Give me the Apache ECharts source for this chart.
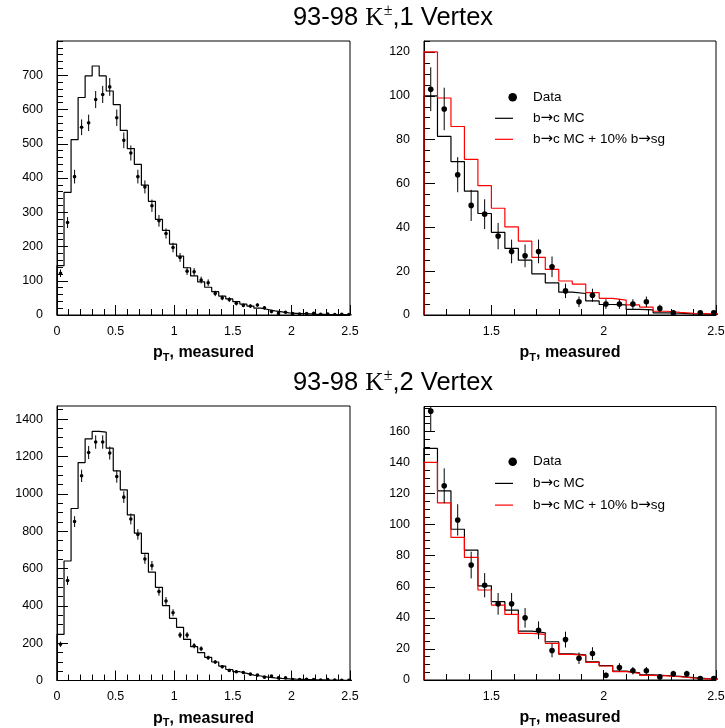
<!DOCTYPE html>
<html><head><meta charset="utf-8">
<script src="https://cdn.jsdelivr.net/npm/echarts@6/dist/echarts.min.js"></script>
<style>html,body{margin:0;padding:0;background:#fff}#c{width:725px;height:728px}</style>
</head><body><div id="c"></div>
<script>
// ---------------- data ----------------
const edgesLeft = [0,0.06,0.12,0.18,0.24,0.3,0.36,0.42,0.48,0.54,0.6,0.66,0.72,0.78,0.84,0.9,0.96,1.02,1.08,1.14,1.2,1.26,1.32,1.38,1.44,1.5,1.56,1.62,1.68,1.74,1.8,1.86,1.92,1.98,2.04,2.1,2.16,2.22,2.28,2.34,2.4,2.46,2.52];
const centersLeft = [0.03,0.09,0.15,0.21,0.27,0.33,0.39,0.45,0.51,0.57,0.63,0.69,0.75,0.81,0.87,0.93,0.99,1.05,1.11,1.17,1.23,1.29,1.35,1.41,1.47,1.53,1.59,1.65,1.71,1.77,1.83,1.89,1.95,2.01,2.07,2.13,2.19,2.25,2.31,2.37,2.43,2.49];
const edgesRight = [1.2,1.26,1.32,1.38,1.44,1.5,1.56,1.62,1.68,1.74,1.8,1.86,1.92,1.98,2.04,2.1,2.16,2.22,2.28,2.34,2.4,2.46,2.52];
const centersRight = [1.23,1.29,1.35,1.41,1.47,1.53,1.59,1.65,1.71,1.77,1.83,1.89,1.95,2.01,2.07,2.13,2.19,2.25,2.31,2.37,2.43,2.49];

// 1 vertex, full range
const v1MC   = [144,358,512,635,698,727,698,654,614,539,486,440,379,332,279,247,207,172,138,114,97,81,68,55,47,39,32,26,20,16,12,9,6,5,4,3,2,2,1,1,1,0];
const v1Data = [122,270,404,548,561,629,644,666,576,510,473,404,374,319,275,238,197,168,128,126,102,94,63,50,45,34,28,26,29,21,10,5,8,4,3,4,5,2,3,1,2,1];
const v1Err  = [11,16,20,23,24,25,25,26,24,23,22,20,19,18,17,15,14,13,11,11,10,10,8,7,7,6,5,5,5,5,3,2,3,2,2,2,2,1.4,1.7,1,1.4,1];
// 1 vertex, zoomed
const v1zMC    = [100,81.5,70,56.5,46.3,37.7,30.4,25,18.8,14.7,10.4,9.8,6.4,4.8,4.6,2.6,2.3,1.0,0.8,0.5,0.4,0.3];
const v1zMCsg  = [120,99,86,71,59,48.7,40.2,33.7,26.3,20.8,15.5,14.1,10.2,7.6,6.8,4.6,3.6,1.7,1.2,0.8,0.6,0.5];
const v1zData  = [103,94,64,50,46,36,29,27,29,22,11,6,9,5,5,5,6,3,1,null,1,1];
const v1zErr   = [10,9.7,8,7.1,6.8,6,5.4,5.2,5.4,4.7,3.3,2.4,3,2.2,2.2,2.2,2.4,1.7,1,0,1,1];
// 2 vertex, full range
const v2MC   = [247,640,921,1167,1294,1334,1330,1244,1123,1021,887,789,681,580,499,401,333,285,220,181,149,124,99,77,59,47,38,29,24,18,14,11,9,7,6,5,4,3,2,2,1,1];
const v2Data = [194,535,851,1096,1221,1277,1277,1218,1092,982,865,782,651,615,476,426,363,243,243,186,170,122,99,74,54,47,43,34,29,18,24,14,14,5,5,7,5,3,5,3,1,1];
const v2Err  = [14,23,29,33,35,36,36,35,33,31,29,28,26,25,22,21,19,16,16,14,13,11,10,9,7,7,7,6,5,4,5,4,4,2,2,3,2,2,2,2,1,1];
// 2 vertex, zoomed
const v2zMC   = [149,121.7,97,83.6,60.6,50.4,45,31.5,30.4,24.6,16.8,16.2,11.6,9.3,5.7,4.6,3.3,2.9,2.3,1.5,0.9,0.6];
const v2zMCsg = [140,114,91.8,78.9,57.9,48.2,42.2,30,29.4,23.6,16.5,15.9,11.4,9,5.4,4.3,3,2.6,2.1,1.3,0.7,0.5];
const v2zData = [173,125,103,74,61,49,49,40,32,19,26,14,17,3,8,6,6,2,4,4,1,1];
const v2zErr  = [13,11.2,10.1,8.6,7.8,7,7,6.3,5.7,4.4,5.1,3.7,4.1,1.7,2.8,2.4,2.4,1.4,2,2,1,1];

// tick labels
const ticksXLeft  = [0,0.5,1,1.5,2,2.5];
const ticksXRight = [1.5,2,2.5];
const ticksY1     = [0,100,200,300,400,500,600,700];
const ticksY1z    = [0,20,40,60,80,100,120];
const ticksY2     = [0,200,400,600,800,1000,1200,1400];
const ticksY2z    = [0,20,40,60,80,100,120,140,160];

const titles = ['93-98 ', 'K', '\u00B1', ',1 Vertex', ',2 Vertex'];
const legendNames = ['Data', 'b\u2192c MC', 'b\u2192c MC + 10% b\u2192sg'];

// ---------------- helpers ----------------
const FONT = '"Liberation Sans", Arial, Helvetica, sans-serif';
const SERIF = '"Liberation Serif", "Times New Roman", serif';
const ARROWFONT = '"DejaVu Sans", sans-serif';

function minorList(min, max, step) {
  const out = [];
  for (let k = 0; ; k++) {
    const v = Math.round((min + k * step) * 1e6) / 1e6;
    if (v > max + 1e-9) break;
    out.push(v);
  }
  return out;
}
function stepData(edges, vals) {
  const d = [[edges[0], 0]];
  for (let i = 0; i < vals.length; i++) d.push([edges[i], vals[i]]);
  d.push([edges[vals.length], vals[vals.length - 1]]);
  d.push([edges[vals.length], 0]);
  return d;
}
const axName = {
  name: '{p|p}{t|T}{p|, measured}',
  nameLocation: 'middle',
  nameGap: 28,
  nameTextStyle: {
    rich: {
      p: { fontFamily: FONT, fontWeight: 'bold', fontSize: 16, color: '#000', lineHeight: 20 },
      t: { fontFamily: FONT, fontWeight: 'bold', fontSize: 11, color: '#000', verticalAlign: 'bottom', lineHeight: 12, padding: [6, 0, 0, 0] }
    }
  }
};
const plainFmt = function (v) { return String(v); };
const xAxes = [], yAxes = [];
function addAxes(g, xmin, xmax, xMajors, xMinorStep, ymin, ymax, yMajors, yMinorStep) {
  xAxes.push(Object.assign({
    type: 'value', gridIndex: g, min: xmin, max: xmax, position: 'bottom',
    axisLine: { show: true, onZero: false, lineStyle: { color: '#000', width: 1 } },
    axisTick: { show: true, inside: true, length: 10, customValues: xMajors, lineStyle: { color: '#000', width: 1 } },
    axisLabel: { show: true, customValues: xMajors, formatter: plainFmt, margin: 10, fontSize: 12.5, fontFamily: FONT, color: '#000' },
    splitLine: { show: false }
  }, axName));
  xAxes.push({
    type: 'value', gridIndex: g, min: xmin, max: xmax, position: 'bottom',
    axisLine: { show: false },
    axisTick: { show: true, inside: true, length: 6, customValues: minorList(xmin, xmax, xMinorStep), lineStyle: { color: '#000', width: 1 } },
    axisLabel: { show: false }, splitLine: { show: false }
  });
  yAxes.push({
    type: 'value', gridIndex: g, min: ymin, max: ymax, position: 'left',
    axisLine: { show: true, onZero: false, lineStyle: { color: '#000', width: 1 } },
    axisTick: { show: true, inside: true, length: 11, customValues: yMajors, lineStyle: { color: '#000', width: 1 } },
    axisLabel: { show: true, customValues: yMajors, formatter: plainFmt, margin: 14, fontSize: 12.5, fontFamily: FONT, color: '#000' },
    splitLine: { show: false }
  });
  yAxes.push({
    type: 'value', gridIndex: g, min: ymin, max: ymax, position: 'left',
    axisLine: { show: false },
    axisTick: { show: true, inside: true, length: 6, customValues: minorList(ymin, ymax, yMinorStep), lineStyle: { color: '#000', width: 1 } },
    axisLabel: { show: false }, splitLine: { show: false }
  });
}
addAxes(0, 0, 2.5, ticksXLeft, 0.1, 0, 800, ticksY1, 20);
addAxes(1, 1.2, 2.5, ticksXRight, 0.1, 0, 125, ticksY1z, 5);
addAxes(2, 0, 2.5, ticksXLeft, 0.1, 0, 1470, ticksY2, 50);
addAxes(3, 1.2, 2.5, ticksXRight, 0.1, 0, 176, ticksY2z, 5);

function histSeries(g, name, edges, vals, color) {
  return {
    type: 'line', name, xAxisIndex: 2 * g, yAxisIndex: 2 * g, step: 'end',
    data: stepData(edges, vals), showSymbol: false, symbol: 'none', clip: true,
    lineStyle: { color, width: 1.2 }, z: 2, animation: false, silent: true
  };
}
function dataSeries(g, centers, vals, errs, r) {
  const d = [];
  centers.forEach((c, i) => { if (vals[i] != null) d.push([c, vals[i], errs[i]]); });
  return {
    type: 'custom', name: 'Data', xAxisIndex: 2 * g, yAxisIndex: 2 * g, data: d, clip: true, z: 3,
    animation: false, silent: true,
    renderItem: function (params, api) {
      const x = api.value(0), y = api.value(1), e = api.value(2);
      const p = api.coord([x, y]);
      const lo = api.coord([x, y - e]);
      const hi = api.coord([x, y + e]);
      return {
        type: 'group', children: [
          { type: 'line', shape: { x1: p[0], y1: lo[1], x2: p[0], y2: hi[1] }, style: { stroke: '#000', lineWidth: 1 } },
          { type: 'circle', shape: { cx: p[0], cy: p[1], r: r }, style: { fill: '#000' } }
        ]
      };
    }
  };
}

const gridBase = { show: true, borderColor: '#000', borderWidth: 1, backgroundColor: 'transparent', outerBoundsMode: 'none', containLabel: false };
const grids = [
  Object.assign({ left: 57, top: 41, width: 293, height: 274 }, gridBase),
  Object.assign({ left: 424, top: 41, width: 292, height: 274 }, gridBase),
  Object.assign({ left: 57, top: 406, width: 293, height: 274.5 }, gridBase),
  Object.assign({ left: 424, top: 406.5, width: 292, height: 273.5 }, gridBase)
];

const series = [
  histSeries(0, legendNames[1], edgesLeft, v1MC, '#000'),
  dataSeries(0, centersLeft, v1Data, v1Err, 1.8),
  histSeries(1, legendNames[1], edgesRight, v1zMC, '#000'),
  histSeries(1, legendNames[2], edgesRight, v1zMCsg, '#ff0000'),
  dataSeries(1, centersRight, v1zData, v1zErr, 2.8),
  histSeries(2, legendNames[1], edgesLeft, v2MC, '#000'),
  dataSeries(2, centersLeft, v2Data, v2Err, 1.8),
  histSeries(3, legendNames[1], edgesRight, v2zMC, '#000'),
  histSeries(3, legendNames[2], edgesRight, v2zMCsg, '#ff0000'),
  dataSeries(3, centersRight, v2zData, v2zErr, 2.8)
];

function titleText(y, which) {
  return {
    type: 'text', x: 393, y: y, z: 10,
    style: {
      text: '{n|' + titles[0] + '}{k|' + titles[1] + '}{s|' + titles[2] + '}{n|' + titles[which] + '}',
      align: 'center', verticalAlign: 'middle',
      rich: {
        n: { fontFamily: FONT, fontSize: 25.5, fill: '#000', lineHeight: 30 },
        k: { fontFamily: SERIF, fontSize: 25.5, fill: '#000', lineHeight: 30 },
        s: { fontFamily: SERIF, fontSize: 16, fill: '#000', lineHeight: 15, verticalAlign: 'top' }
      }
    }
  };
}
function richLegend(s) {
  return s.split('\u2192').map(function (part) { return part ? '{t|' + part + '}' : ''; }).join('{a|\u2192}');
}
function legendBlock(y0, dy) {
  const els = [];
  els.push({ type: 'circle', shape: { cx: 512.7, cy: y0, r: 4.3 }, style: { fill: '#000' } });
  els.push({ type: 'line', shape: { x1: 495, y1: y0 + dy, x2: 513, y2: y0 + dy }, style: { stroke: '#000', lineWidth: 1.2 } });
  els.push({ type: 'line', shape: { x1: 495, y1: y0 + 2 * dy, x2: 513, y2: y0 + 2 * dy }, style: { stroke: '#ff0000', lineWidth: 1.2 } });
  for (let i = 0; i < 3; i++) {
    els.push({ type: 'text', x: 533, y: y0 + i * dy, style: {
      text: richLegend(legendNames[i]), align: 'left', verticalAlign: 'middle',
      rich: {
        t: { fontFamily: FONT, fontSize: 13.5, fill: '#000', lineHeight: 16 },
        a: { fontFamily: ARROWFONT, fontSize: 15, fill: '#000', lineHeight: 16 }
      }
    } });
  }
  return els;
}

const option = {
  animation: false,
  backgroundColor: '#fff',
  grid: grids,
  xAxis: xAxes,
  yAxis: yAxes,
  series: series,
  graphic: [titleText(18, 3), titleText(383, 4)].concat(legendBlock(97.3, 21)).concat(legendBlock(461.7, 21.7))
};
const chart = echarts.init(document.getElementById('c'), null, { renderer: 'canvas' });
chart.setOption(option);
</script>
</body></html>
